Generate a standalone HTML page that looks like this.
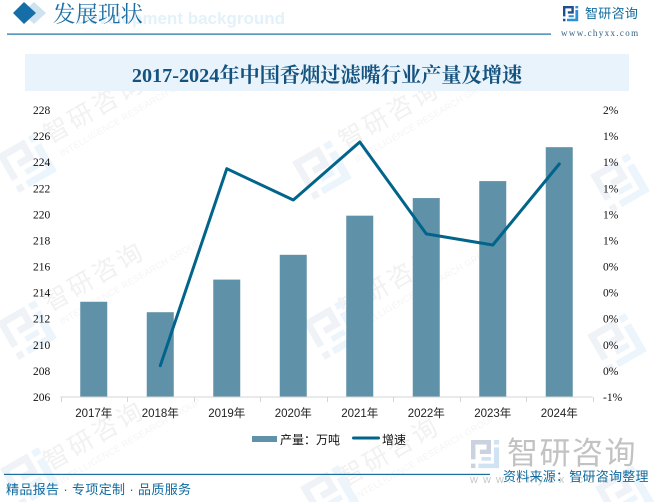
<!DOCTYPE html>
<html lang="zh">
<head>
<meta charset="utf-8">
<title>2017-2024年中国香烟过滤嘴行业产量及增速</title>
<style>
html,body{margin:0;padding:0;background:#fff;}
body{width:654px;height:502px;overflow:hidden;position:relative;}
svg{position:absolute;left:0;top:0;}
.tick{font-family:"Liberation Serif","Noto Serif CJK SC",serif;font-size:11.5px;fill:#111;}
.cat{font-family:"Liberation Sans","Noto Sans CJK SC",sans-serif;font-size:11.5px;fill:#222;}
.leg{font-family:"Liberation Sans","Noto Sans CJK SC",sans-serif;font-size:12px;fill:#111;}
.ic-a{fill:var(--a);}
.ic-b{fill:var(--b);}
</style>
</head>
<body>
<svg id="page" width="654" height="502" viewBox="0 0 654 502" xmlns="http://www.w3.org/2000/svg">
  <defs>
    <g id="wm-icon">
      <path class="ic-a" d="M0 0H27V19H12V13H21V6H6V26H0Z M0 32H6V38H0Z"/>
      <path class="ic-b" d="M31 0H38V6H31Z M31 10H38V38H10V32H31Z M14 23H27V28H14Z"/>
    </g>
  </defs>
  <g id="watermarks"></g>

  <polygon points="34,2 46,13 34,24 22,13" fill="#cfe2ef"/>
  <polygon points="24,2 36,13 24,24 13,13" fill="#156ea8"/>
  <text x="285" y="24" text-anchor="end" font-family="'Liberation Sans',sans-serif" font-weight="700" font-size="17" fill="#e3f1fa">Development background</text>
  <text x="53" y="22" font-family="'Liberation Serif','Noto Serif CJK SC',serif" font-size="22.5" fill="#1c6ea4">发展现状</text>
  <rect x="7" y="33.5" width="544" height="1.2" fill="#1a6ea6"/>

  <g>
    <g transform="translate(563,6) scale(0.4)" style="--a:#1d4f91;--b:#2e8fd6"><use href="#wm-icon"/></g>
    <text x="585" y="18" font-family="'Liberation Sans','Noto Sans CJK SC',sans-serif" font-size="13" letter-spacing="0.3" fill="#0f6a9f">智研咨询</text>
    <text x="561" y="36" font-family="'Liberation Serif',serif" font-size="9" letter-spacing="1.35" fill="#34607f">www.chyxx.com</text>
  </g>

  <rect x="25" y="54" width="604" height="37" fill="#e8f3fb"/>
  <text x="327" y="82" text-anchor="middle" font-family="'Liberation Serif','Noto Serif CJK SC',serif" font-weight="700" font-size="20.2" fill="#14527f">2017-2024年中国香烟过滤嘴行业产量及增速</text>

  <g id="plot"></g>

  <g>
    <g>
      <rect x="252" y="436" width="25" height="6" fill="#5f91a9"/>
      <text class="leg" x="280" y="444">产量：万吨</text>
    </g>
    <g>
      <rect x="352" y="436.5" width="28" height="3" rx="1.5" fill="#01648a"/>
      <text class="leg" x="382" y="444">增速</text>
    </g>
  </g>

  <g>
    <g transform="translate(471,440) scale(0.74)" style="--a:#c9d2de;--b:#cfe3f3"><use href="#wm-icon"/></g>
    <text x="507" y="464" font-family="'Liberation Sans','Noto Sans CJK SC',sans-serif" font-size="31" letter-spacing="1.5" fill="#c2c2c2">智研咨询</text>
    <text x="470" y="483" font-family="'Liberation Sans',sans-serif" font-size="11" letter-spacing="5" fill="#c8c8c8">www.chyxx.com</text>
  </g>

  <rect x="4" y="473.8" width="486" height="1.2" fill="#1a6ea0"/>
  <text x="6" y="494" font-family="'Liberation Sans','Noto Sans CJK SC',sans-serif" font-size="13" letter-spacing="0.35" fill="#0f6a9f">精品报告 · 专项定制 · 品质服务</text>
  <text x="503" y="481" font-family="'Liberation Sans','Noto Sans CJK SC',sans-serif" font-size="13" letter-spacing="0.25" fill="#0f6a9f">资料来源：智研咨询整理</text>
</svg>
<script>
const categories = ['2017年','2018年','2019年','2020年','2021年','2022年','2023年','2024年'];
const outputValues = [213.3,212.5,215.0,216.9,219.9,221.25,222.55,225.15];
const growthValues = [null,-0.36,1.15,0.91,1.355,0.65,0.565,1.186];
const leftTicks = [206,208,210,212,214,216,218,220,222,224,226,228];
const rightTickValues = [-0.6,-0.4,-0.2,0,0.2,0.4,0.6,0.8,1.0,1.2,1.4,1.6];
const rightTickLabels = ['-1%','0%','0%','0%','0%','0%','1%','1%','1%','1%','1%','2%'];

const NS = 'http://www.w3.org/2000/svg';
const plotLeft = 60.5, plotRight = 592.5, plotTop = 110, plotBottom = 397;
const plot = document.getElementById('plot');
function mk(tag, attrs, parent){
  const el = document.createElementNS(NS, tag);
  for (const k in attrs) el.setAttribute(k, attrs[k]);
  parent.appendChild(el);
  return el;
}
const yLeft = v => plotBottom - (v - leftTicks[0]) / (leftTicks[leftTicks.length-1] - leftTicks[0]) * (plotBottom - plotTop);
const yRight = v => plotBottom - (v - rightTickValues[0]) / (rightTickValues[rightTickValues.length-1] - rightTickValues[0]) * (plotBottom - plotTop);
const band = (plotRight - plotLeft) / categories.length;
const xCenter = i => plotLeft + band * (i + 0.5);

outputValues.forEach((v,i) => {
  const top = yLeft(v);
  const bar = mk('rect', {x: xCenter(i) - 13.5, y: top, width: 27, height: plotBottom - top, fill: '#5f91a9'}, plot);
  
  
});

const axis = mk('path', {d: 'M' + plotLeft + ' ' + plotBottom + 'H' + plotRight, stroke: '#d4d4d4', 'stroke-width': 1, fill: 'none'}, plot);


for (let i = 0; i <= categories.length; i++) {
  const x = Math.round(plotLeft + band * i) + 0.5;
  const t = mk('line', {x1: x, x2: x, y1: plotBottom, y2: plotBottom + 5, stroke: '#d4d4d4', 'stroke-width': 1}, plot);
  
  
}

categories.forEach((c,i) => {
  const t = mk('text', {x: xCenter(i), y: 417, 'text-anchor': 'middle', class: 'cat'}, plot);
  t.textContent = c;
  
  
});
leftTicks.forEach(v => {
  const t = mk('text', {x: 33, y: yLeft(v) + 4, class: 'tick'}, plot);
  t.textContent = v;
  
  
});
rightTickValues.forEach((v,i) => {
  const t = mk('text', {x: 603, y: yRight(v) + 4, class: 'tick'}, plot);
  t.textContent = rightTickLabels[i];
  
  
});

let d = '', started = false;
growthValues.forEach((v,i) => {
  if (v === null) return;
  d += (started ? 'L' : 'M') + xCenter(i).toFixed(1) + ' ' + yRight(v).toFixed(1);
  started = true;
});
const line = mk('path', {d: d, fill: 'none', stroke: '#01648a', 'stroke-width': 3, 'stroke-linejoin': 'round', 'stroke-linecap': 'round'}, plot);



const wm = document.getElementById('watermarks');
[[50,144],[50,312],[50,471],[345,150],[345,318],[345,487]].forEach(p => {
  const g = mk('g', {transform: 'translate(' + p[0] + ',' + p[1] + ') rotate(-30)'}, wm);
  
  
  const a = mk('text', {x: 0, y: 0, 'font-family': "'Liberation Sans','Noto Sans CJK SC',sans-serif", 'font-size': 25, 'letter-spacing': 3, fill: '#f1f1f1'}, g);
  a.textContent = '智研咨询';
  const b = mk('text', {x: 4, y: 17, 'font-family': "'Liberation Sans',sans-serif", 'font-size': 9, 'letter-spacing': 0.3, fill: '#f4f4f4'}, g);
  b.textContent = 'INTELLIGENCE RESEARCH GROUP';
});
[[27,163],[322,170],[620,183],[30,477],[333,330],[617,343],[330,495],[625,495],[27,330]].forEach(p => {
  const g = mk('g', {transform: 'translate(' + p[0] + ',' + p[1] + ') rotate(-30) scale(1.15) translate(-19,-19)', style: '--a:#eff2f6;--b:#ebf5fb'}, wm);
  
  
  mk('use', {href: '#wm-icon'}, g);
});
</script>
</body>
</html>
